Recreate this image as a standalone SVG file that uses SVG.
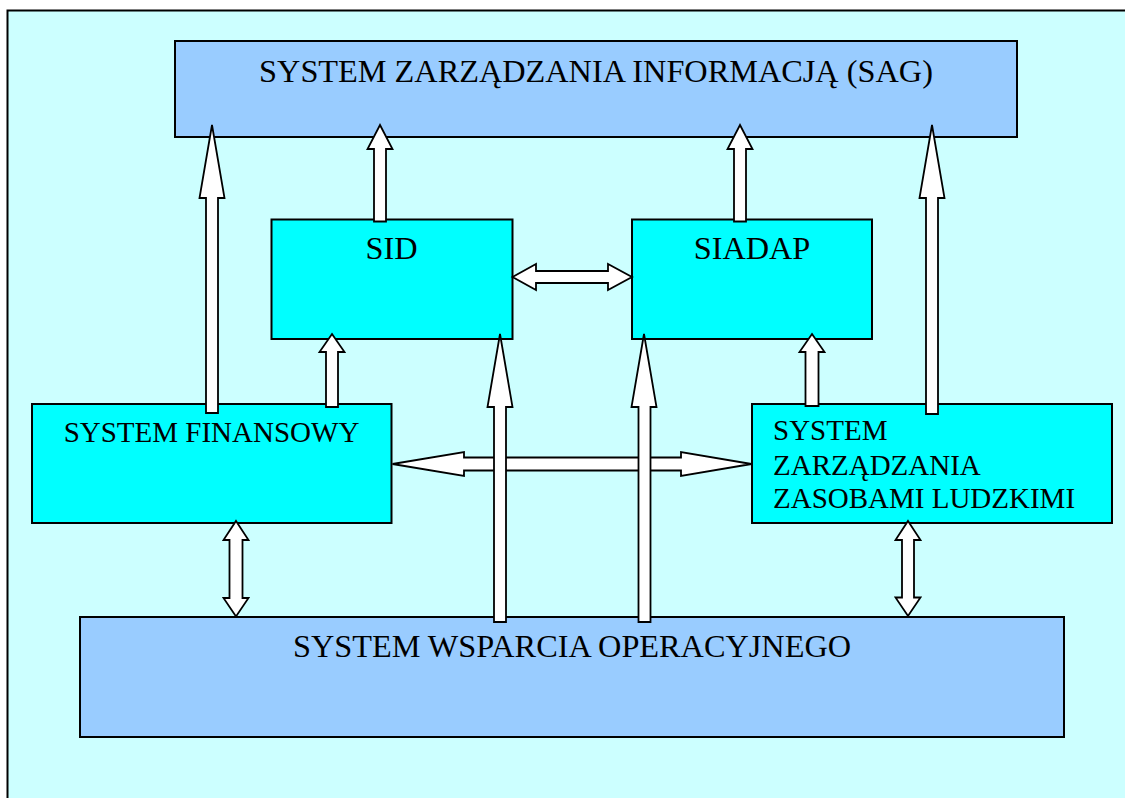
<svg xmlns="http://www.w3.org/2000/svg" width="1125" height="798" viewBox="0 0 1125 798">
<style>
.frame{fill:#CCFFFF;stroke:#000;stroke-width:2}
.blue{fill:#99CCFF;stroke:#000;stroke-width:2}
.cyan{fill:#00FFFF;stroke:#000;stroke-width:2}
.arr{fill:#FFFFFF;stroke:#000;stroke-width:1.8;stroke-linejoin:miter}
text{font-family:"Liberation Serif","Times New Roman",serif;font-size:29px;fill:#000}
.big{font-size:32.3px}
.c{text-anchor:middle}
</style>
<rect width="1125" height="798" fill="#FFFFFF"/>
<rect class="frame" x="7.5" y="10.5" width="1130" height="800"/>
<g id="node-sag">
<rect class="blue" x="175" y="41" width="842" height="96"/>
<text class="c big" x="596" y="82">SYSTEM ZARZĄDZANIA INFORMACJĄ (SAG)</text>
</g>
<g id="node-sid">
<rect class="cyan" x="271.5" y="219.5" width="241" height="119.5"/>
<text class="c big" x="391.5" y="259">SID</text>
</g>
<g id="node-siadap">
<rect class="cyan" x="632" y="219.5" width="240" height="119.5"/>
<text class="c big" x="752" y="259">SIADAP</text>
</g>
<g id="node-fin">
<rect class="cyan" x="32" y="404" width="359.5" height="119"/>
<text class="c" x="211.5" y="442">SYSTEM FINANSOWY</text>
</g>
<g id="node-hr">
<rect class="cyan" x="752" y="404" width="360" height="119"/>
<text x="773" y="440">SYSTEM</text>
<text x="773" y="475">ZARZĄDZANIA</text>
<text x="773" y="508">ZASOBAMI LUDZKIMI</text>
</g>
<g id="node-swo">
<rect class="blue" x="80" y="617" width="984" height="120"/>
<text class="c big" x="572" y="657">SYSTEM WSPARCIA OPERACYJNEGO</text>
</g>
<g id="connectors">
<polygon class="arr" points="392.5,464 464,452 464,457.5 681,457.5 681,452 751.5,464 681,476 681,470.5 464,470.5 464,476"/>
<polygon class="arr" points="512.5,277 536,264 536,271 608,271 608,264 632,277 608,290 608,283 536,283 536,290"/>
<polygon class="arr" points="212,125 224.5,198 218,198 218,413 206,413 206,198 199.5,198"/>
<polygon class="arr" points="380,125 392.5,149 386,149 386,221.5 374,221.5 374,149 367.5,149"/>
<polygon class="arr" points="740,125 752.5,149 746,149 746,221.5 734,221.5 734,149 727.5,149"/>
<polygon class="arr" points="932,125 944.5,198 938,198 938,414 926,414 926,198 919.5,198"/>
<polygon class="arr" points="332,334 344.5,352 338,352 338,407 326,407 326,352 319.5,352"/>
<polygon class="arr" points="812,334 824.5,352 818.5,352 818.5,406 805.5,406 805.5,352 799.5,352"/>
<polygon class="arr" points="500,334 512.5,407 506,407 506,622 494,622 494,407 487.5,407"/>
<polygon class="arr" points="644,334 656.5,407 650.5,407 650.5,622 638.5,622 638.5,407 631.5,407"/>
<polygon class="arr" points="236,521 248.5,540 242.5,540 242.5,598 248.5,598 236,616.5 223.5,598 229.5,598 229.5,540 223.5,540"/>
<polygon class="arr" points="908,521 920.5,540 914,540 914,597.5 920.5,597.5 908,616 895.5,597.5 902,597.5 902,540 895.5,540"/>
</g>
</svg>
